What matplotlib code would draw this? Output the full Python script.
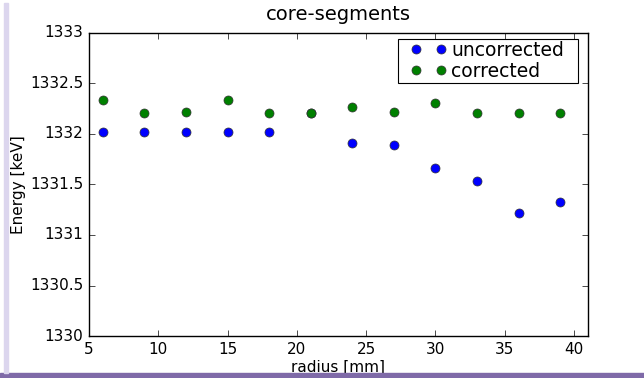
import numpy as np
import matplotlib
matplotlib.use("Agg")
import matplotlib.pyplot as plt
import matplotlib.patches as patches

# radius [mm] and peak energies [keV]
radius = [6, 9, 12, 15, 18, 21, 24, 27, 30, 33, 36, 39]
uncorrected = [1332.02, 1332.02, 1332.02, 1332.02, 1332.02, 1332.21,
               1331.91, 1331.89, 1331.66, 1331.53, 1331.22, 1331.33]
corrected = [1332.34, 1332.21, 1332.22, 1332.34, 1332.21, 1332.21,
             1332.27, 1332.22, 1332.31, 1332.21, 1332.21, 1332.21]

plt.style.use('classic')

fig = plt.figure(figsize=(6.44, 3.78), dpi=100, facecolor='white')
ax = fig.add_axes([0.138, 0.111, 0.775, 0.802])

ax.plot(radius, uncorrected, 'o', color='blue', markersize=6.5,
        markeredgewidth=0.5, markeredgecolor='#333333', label='uncorrected')
ax.plot(radius, corrected, 'o', color='green', markersize=6.5,
        markeredgewidth=0.5, markeredgecolor='#333333', label='corrected')

ax.set_xlim(5, 41)
ax.set_ylim(1330, 1333)
ax.set_xticks([5, 10, 15, 20, 25, 30, 35, 40])
ax.set_yticks([1330, 1330.5, 1331, 1331.5, 1332, 1332.5, 1333])
ax.set_yticklabels(['1330', '1330.5', '1331', '1331.5', '1332', '1332.5', '1333'])
ax.tick_params(labelsize=11)
ax.set_xlabel('radius [mm]', fontsize=11, labelpad=2)
ax.set_ylabel('Energy [keV]', fontsize=11, labelpad=3)
ax.set_title('core-segments', fontsize=14, pad=9)

# legend without its own frame; old-style wide box drawn around it below
leg = ax.legend(loc='upper right', bbox_to_anchor=(0.952, 0.974), numpoints=2,
                fontsize=13.5, borderpad=0.0, labelspacing=0.1, handletextpad=0.23,
                handlelength=1.93, borderaxespad=0.0, frameon=False)
leg.set_zorder(6)

fig.canvas.draw()
bb = leg.get_window_extent().transformed(fig.transFigure.inverted())
W, H = fig.get_size_inches() * fig.dpi
padl, padr, padv = 13 / W, 14 / W, 2 / H
frame = patches.Rectangle((bb.x0 - padl, bb.y0 - padv), bb.width + padl + padr,
                          bb.height + 2 * padv, transform=fig.transFigure,
                          facecolor='white', edgecolor='black', linewidth=0.8,
                          zorder=5, clip_on=False)
ax.add_artist(frame)

# slide decoration: purple bar at bottom, faint shade on the left
fig.patches.append(patches.Rectangle((0.0, 0.0), 1.0, 0.013, transform=fig.transFigure,
                                     color='#7f6aa8', zorder=0))
fig.patches.append(patches.Rectangle((0.006, 0.013), 0.006, 0.98, transform=fig.transFigure,
                                     color='#dcd6ee', zorder=0))

fig.savefig('out.png', dpi=100, facecolor='white')
